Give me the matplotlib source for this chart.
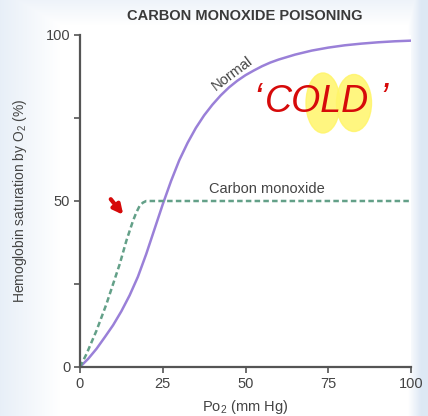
import numpy as np
import matplotlib.pyplot as plt
from matplotlib.patches import Ellipse

plt.rcParams['font.family'] = ['Liberation Sans', 'DejaVu Sans']

# oxygen-haemoglobin dissociation, read point by point
po2_normal = [0, 2.5, 5, 7.5, 10, 12.5, 15, 17.5, 20, 22.5, 25, 27.5, 30, 32.5,
              35, 37.5, 40, 42.5, 45, 47.5, 50, 52.5, 55, 57.5, 60, 65, 70, 75,
              80, 85, 90, 95, 100]
sat_normal = [0, 2.5, 5.5, 9, 12.6, 16.8, 21.6, 27.2, 34, 41.5, 49, 56, 62.3, 67.5,
              72, 75.8, 79, 81.8, 84.2, 86.2, 87.9, 89.3, 90.6, 91.7, 92.6, 94.1,
              95.3, 96.2, 96.9, 97.4, 97.8, 98.1, 98.3]

po2_co = [0, 2, 5, 8, 10, 12, 14, 16, 17, 18, 19, 20, 22, 100]
sat_co = [0, 4, 11, 19, 25, 31, 38, 44, 46.5, 48.5, 49.5, 50, 50, 50]

xticks = [0, 25, 50, 75, 100]
yticks = [0, 25, 50, 75, 100]
ylabels = ['0', '', '50', '', '100']

W, H = 428, 416
fig = plt.figure(figsize=(W / 100, H / 100), dpi=100)

# pale blue page behind the figure
bg = fig.add_axes([0, 0, 1, 1])
cols = np.linspace(0, 1, W)
shade = np.clip((0.14 - cols) / 0.14, 0, 1) * 0.7 + np.clip((cols - 0.955) / 0.03, 0, 1)
rows = np.linspace(0, 1, H)
shade = np.maximum(shade[None, :], (np.clip((0.06 - rows) / 0.06, 0, 1) * 0.5)[:, None])
white = np.array([1.0, 1.0, 1.0])
blue = np.array([0.87, 0.91, 0.96])
img = white[None, None, :] * (1 - shade[..., None]) + blue[None, None, :] * shade[..., None]
bg.imshow(img, aspect='auto', extent=[0, W, H, 0])
bg.set_xlim(0, W)
bg.set_ylim(H, 0)
bg.axis('off')

ax = fig.add_axes([80 / W, 1 - 367 / H, 331 / W, 332 / H])
ax.set_facecolor('white')
ax.plot(po2_normal, sat_normal, color='#9a80d8', lw=1.8, solid_capstyle='round')
ax.plot(po2_co, sat_co, color='#63a088', lw=1.8, ls=(0, (2.2, 1.3)))

ax.set_xlim(0, 100)
ax.set_ylim(0, 100)
ax.set_xticks(xticks)
ax.set_yticks(yticks)
ax.set_yticklabels(ylabels)
for s in ['top', 'right']:
    ax.spines[s].set_visible(False)
for s in ['left', 'bottom']:
    ax.spines[s].set_color('#555555')
    ax.spines[s].set_linewidth(1.6)
ax.tick_params(direction='out', length=4, width=1.2, color='#555555',
               labelsize=10.5, labelcolor='#444444', pad=3)

ax.set_xlabel('P$\\mathregular{o_2}$ (mm Hg)', fontsize=10.5, color='#444444', labelpad=5)
ax.set_ylabel('Hemoglobin saturation by O$\\mathregular{_2}$ (%)', fontsize=10,
              color='#444444', labelpad=12)

ax.text(46, 88.5, 'Normal', rotation=37, fontsize=10.5, color='#444444',
        ha='center', va='center')
ax.text(56.5, 53.5, 'Carbon monoxide', fontsize=10.5, color='#444444',
        ha='center', va='center')

fig.text(245 / W, 1 - 16 / H, 'CARBON MONOXIDE POISONING', fontsize=10.5,
         fontweight='bold', color='#3a3a3a', ha='center', va='center')

# handwritten note on top: highlighter marks, "COLD", quotes and the arrow
note = fig.add_axes([0, 0, 1, 1], facecolor='none')
note.set_xlim(0, W)
note.set_ylim(H, 0)
note.axis('off')
red = '#d60a0a'
note.add_patch(Ellipse((323, 103), 34, 60, color='#fff56a', alpha=0.85, zorder=3))
note.add_patch(Ellipse((354, 103), 35, 57, color='#fff56a', alpha=0.85, zorder=3))
note.text(317, 102, 'COLD', fontsize=27, fontstyle='italic', color=red,
          ha='center', va='center', zorder=4)
note.text(258, 100, '\u2018', fontsize=27, fontstyle='italic', color=red,
          ha='center', va='center', zorder=4)
note.text(384, 100, '\u2019', fontsize=27, fontstyle='italic', color=red,
          ha='center', va='center', zorder=4)
note.annotate('', xy=(125, 217), xytext=(109, 197), zorder=4,
              arrowprops=dict(arrowstyle='-|>', color=red, lw=3,
                              mutation_scale=14))

fig.savefig('out.png', dpi=100)
